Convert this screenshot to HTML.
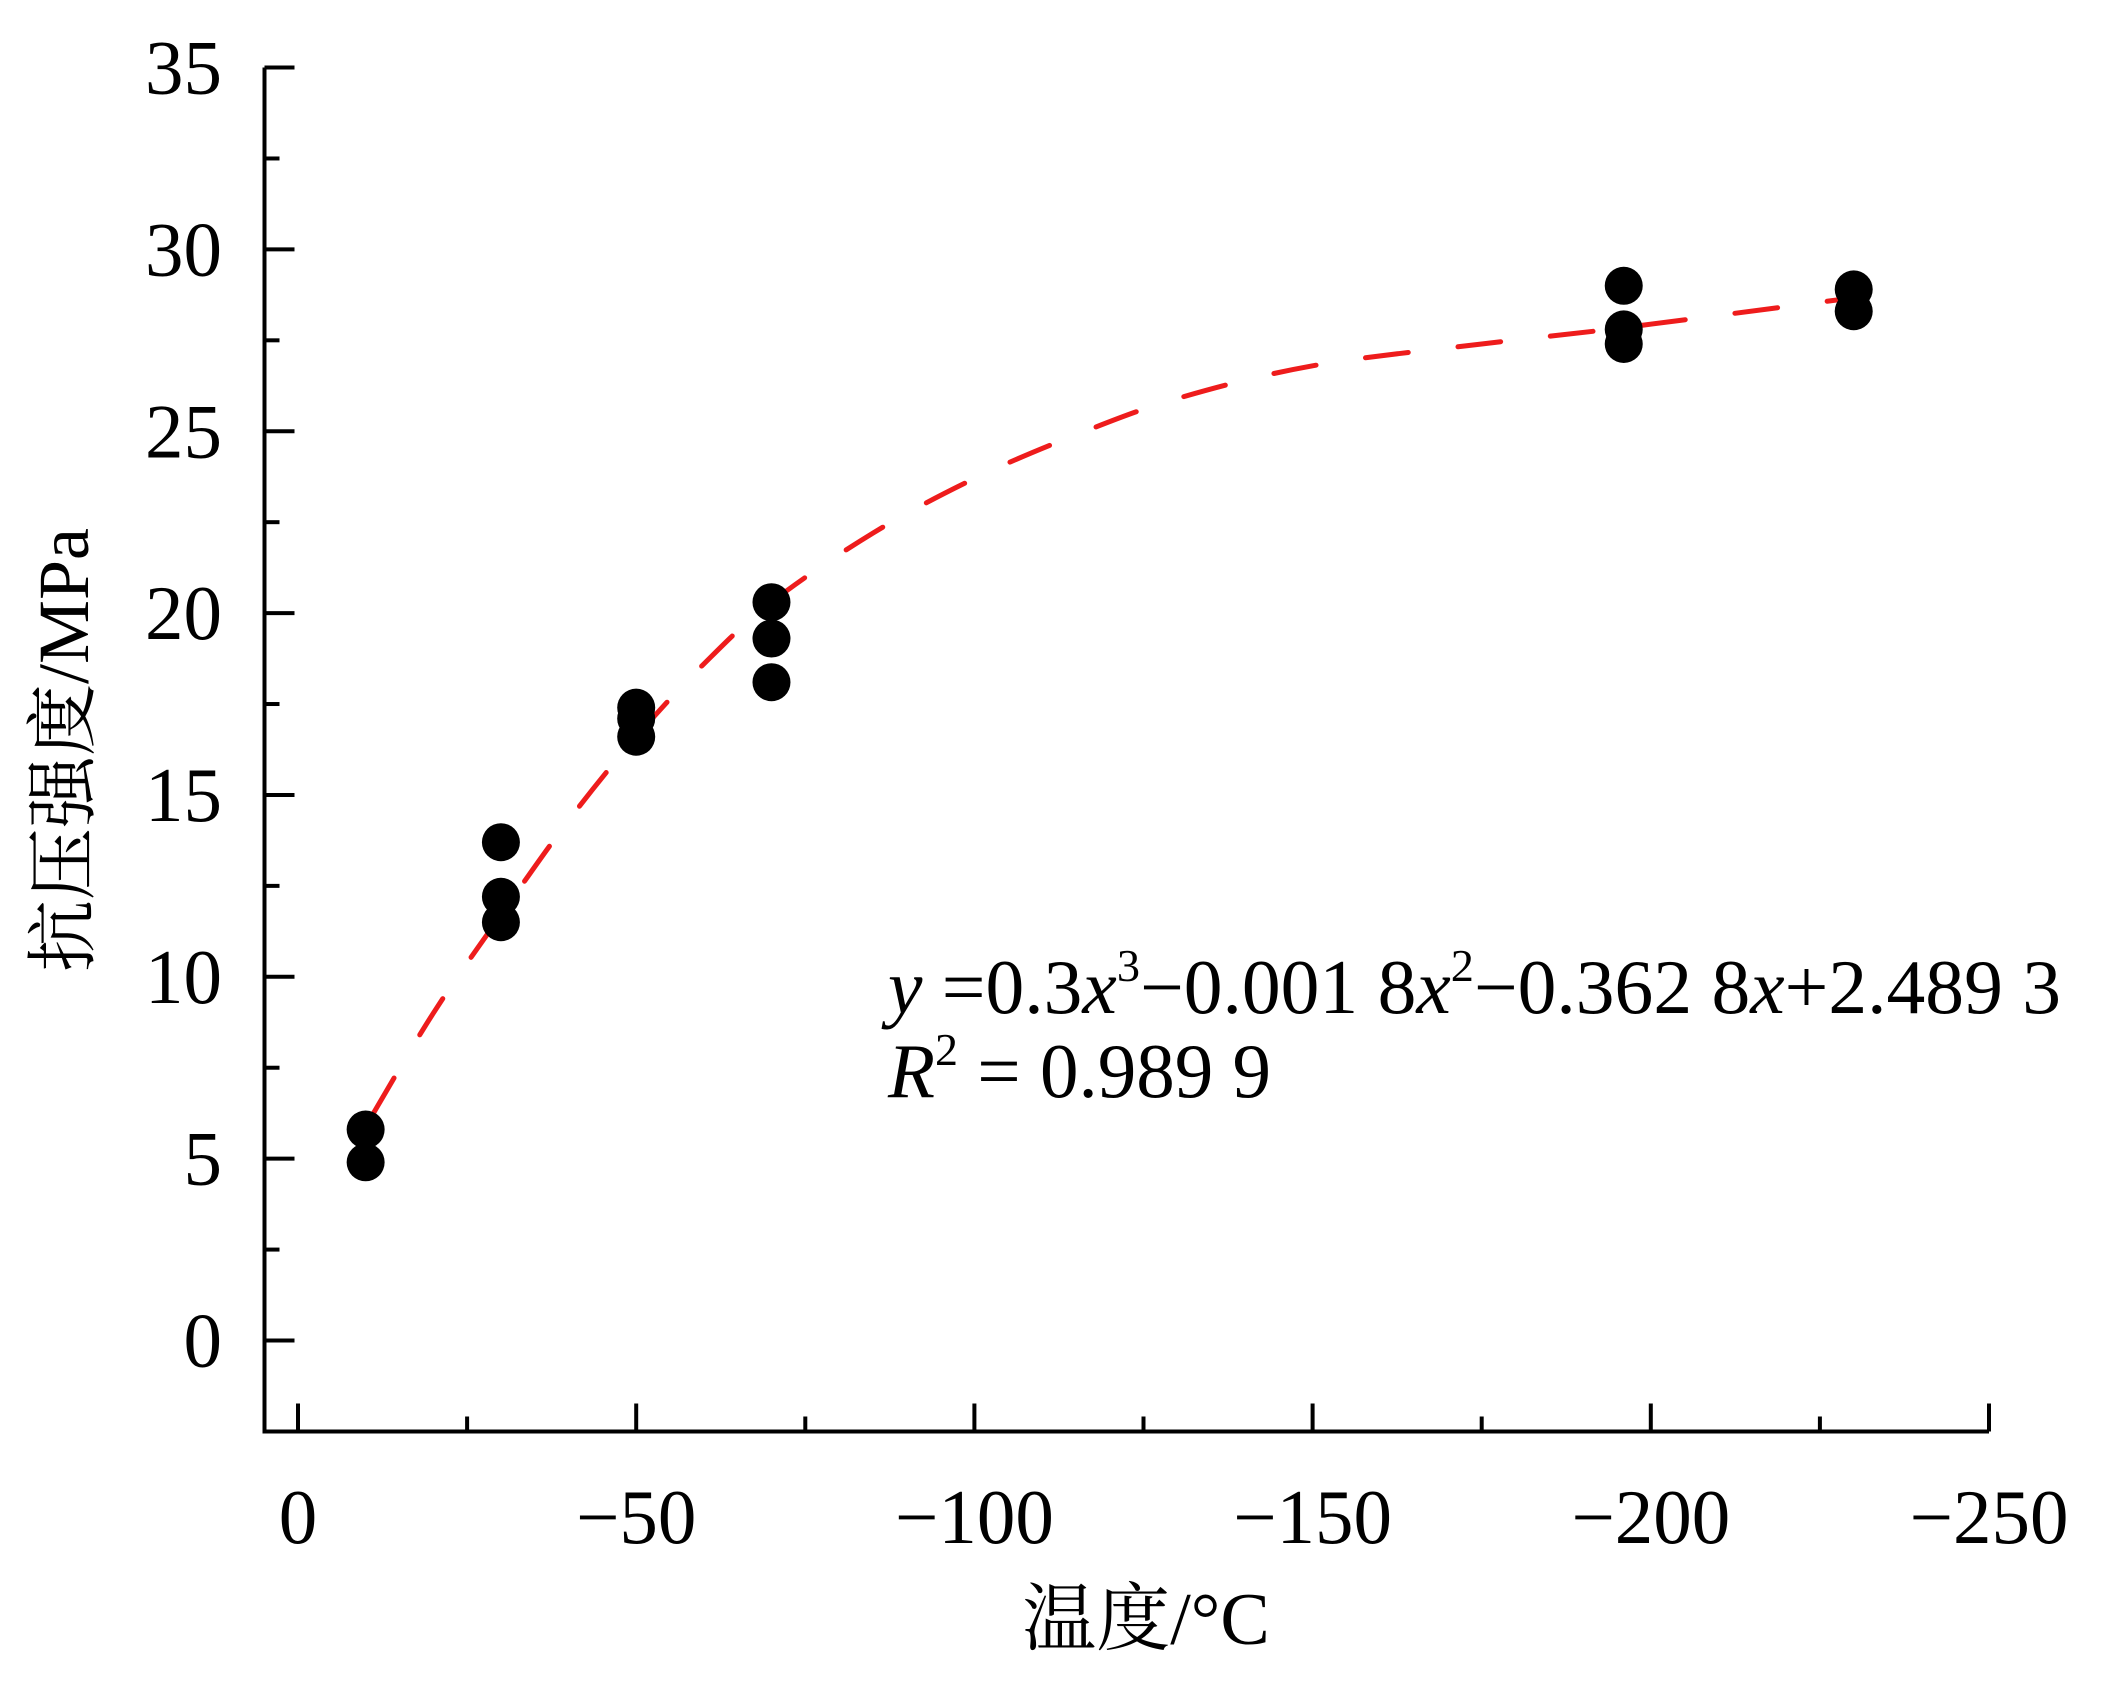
<!DOCTYPE html>
<html><head><meta charset="utf-8"><style>
html,body{margin:0;padding:0;background:#fff;}
svg{display:block;}
text{font-family:"Liberation Serif","Noto Serif CJK SC",serif;fill:#000;}
</style></head><body>
<svg id="chart" width="2110" height="1700" viewBox="0 0 2110 1700" xmlns="http://www.w3.org/2000/svg">
<g id="axes"></g>
<g id="curve"></g>
<g id="points"></g>
<text transform="translate(88,750) rotate(-90)" text-anchor="middle" font-size="72">抗压强度/MPa</text>
<text x="1146" y="1644" text-anchor="middle" font-size="74">温度/°C</text>
<text x="888" y="1013" font-size="77" textLength="1173" lengthAdjust="spacingAndGlyphs"><tspan font-style="italic">y</tspan> =0.3<tspan font-style="italic">x</tspan><tspan font-size="46" dy="-32">3</tspan><tspan dy="32">−0.001 8</tspan><tspan font-style="italic">x</tspan><tspan font-size="46" dy="-32">2</tspan><tspan dy="32">−0.362 8</tspan><tspan font-style="italic">x</tspan>+2.489 3</text>
<text x="888" y="1097" font-size="77"><tspan font-style="italic">R</tspan><tspan font-size="46" dy="-32">2</tspan><tspan dy="32"> = 0.989 9</tspan></text>
</svg>
<script>
const xTicks = [0, -50, -100, -150, -200, -250];
const xMinor = [-25, -75, -125, -175, -225];
const yTicks = [0, 5, 10, 15, 20, 25, 30, 35];
const yMinor = [2.5, 7.5, 12.5, 17.5, 22.5, 27.5, 32.5];
const pointX = [-10, -10, -30, -30, -30, -50, -50, -50, -70, -70, -70, -196, -196, -196, -230, -230];
const pointY = [5.8, 4.9, 13.7, 12.2, 11.5, 17.4, 17.1, 16.6, 20.3, 19.3, 18.1, 29.0, 27.8, 27.4, 28.9, 28.3];
const curveX = [-11, -20, -30, -40, -50, -60, -70, -85, -100, -115, -130, -150, -175, -196, -230];
const curveY = [6.2, 9.0, 11.7, 14.3, 16.6, 18.6, 20.3, 22.2, 23.7, 24.9, 25.9, 26.8, 27.4, 27.85, 28.67];

const NS = 'http://www.w3.org/2000/svg';
function sx(v){ return 298 + (v / -50) * 338.2; }
function sy(v){ return 1340.5 - v * 36.37; }
function mk(tag, attrs, parent){
  const e = document.createElementNS(NS, tag);
  for (const k in attrs) e.setAttribute(k, attrs[k]);
  parent.appendChild(e);
  return e;
}
const axes = document.getElementById('axes');
const axisY = 1431.5, axisL = 264.5, axisR = sx(-250), axisT = sy(35);
let el = mk('path', {d:`M${axisL},${axisT} L${axisL},${axisY} L${axisR},${axisY}`, fill:'none', stroke:'#000', 'stroke-width':4}, axes);


xTicks.forEach(v=>{
  const x = sx(v);
  const t = mk('line', {x1:x, x2:x, y1:axisY, y2:axisY-28, stroke:'#000','stroke-width':4}, axes);
  
  
  const l = mk('text', {x:x, y:1543, 'text-anchor':'middle', 'font-size':77}, axes);
  
  
  l.textContent = v === 0 ? '0' : '−' + Math.abs(v);
});
xMinor.forEach(v=>{
  const x = sx(v);
  const t = mk('line', {x1:x, x2:x, y1:axisY, y2:axisY-15, stroke:'#000','stroke-width':4}, axes);
  
  
});
yTicks.forEach(v=>{
  const y = sy(v);
  const t = mk('line', {x1:axisL, x2:axisL+30, y1:y, y2:y, stroke:'#000','stroke-width':4}, axes);
  
  
  const l = mk('text', {x:222, y:y+26, 'text-anchor':'end', 'font-size':77}, axes);
  
  
  l.textContent = String(v);
});
yMinor.forEach(v=>{
  const y = sy(v);
  const t = mk('line', {x1:axisL, x2:axisL+15, y1:y, y2:y, stroke:'#000','stroke-width':4}, axes);
  
  
});
const pts = document.getElementById('points');
pointX.forEach((v,i)=>{
  const c = mk('circle', {cx:sx(v), cy:sy(pointY[i]), r:19, fill:'#000'}, pts);
  
  
});
const cg = document.getElementById('curve');
const P = curveX.map((v,i)=>[sx(v), sy(curveY[i])]);
let d = 'M' + P[0][0].toFixed(1) + ',' + P[0][1].toFixed(1);
for (let i=0;i<P.length-1;i++){
  const p0 = P[i-1]||P[i], p1 = P[i], p2 = P[i+1], p3 = P[i+2]||P[i+1];
  const c1 = [p1[0]+(p2[0]-p0[0])/6, p1[1]+(p2[1]-p0[1])/6];
  const c2 = [p2[0]-(p3[0]-p1[0])/6, p2[1]-(p3[1]-p1[1])/6];
  d += ` C${c1[0].toFixed(1)},${c1[1].toFixed(1)} ${c2[0].toFixed(1)},${c2[1].toFixed(1)} ${p2[0].toFixed(1)},${p2[1].toFixed(1)}`;
}
const p = mk('path', {d:d, fill:'none', stroke:'#ee1c1c', 'stroke-width':5, 'stroke-dasharray':'43 50', 'stroke-linecap':'round'}, cg);


</script>
</body></html>
